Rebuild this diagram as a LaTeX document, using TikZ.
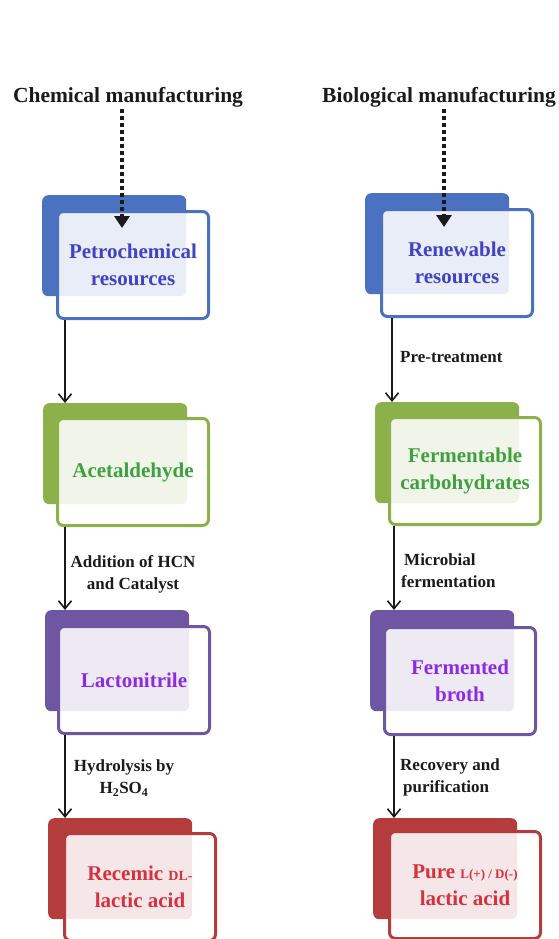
\documentclass[tikz,border=0pt]{standalone}
\usepackage{fontspec}
\setmainfont{Liberation Serif}
\usetikzlibrary{arrows.meta,calc}
\definecolor{cblue}{HTML}{4A72C0}
\definecolor{tblue}{HTML}{4242C2}
\definecolor{cgreen}{HTML}{8CB14B}
\definecolor{tgreen}{HTML}{3FA03F}
\definecolor{cpurple}{HTML}{6E56A2}
\definecolor{tpurple}{HTML}{8E2BE0}
\definecolor{cred}{HTML}{B43C3C}
\definecolor{tred}{HTML}{D8303F}
\definecolor{ink}{HTML}{1A1A1A}
\begin{document}
\begin{tikzpicture}[x=1pt,y=-1pt,
  backbox/.style={fill=#1, rounded corners=6pt, anchor=north west, inner sep=0pt,
    minimum width=144pt, minimum height=101pt},
  frontbox/.style={draw=#1, line width=3pt, fill=white, fill opacity=0.88, text opacity=1,
    rounded corners=6pt, anchor=north west, inner sep=0pt,
    minimum width=151pt, minimum height=107pt, align=center,
    font=\fontsize{21}{27}\selectfont\bfseries},
  titletext/.style={font=\fontsize{21.5}{24}\selectfont\bfseries, text=ink, inner sep=2pt},
  labeltext/.style={font=\fontsize{17}{22}\selectfont\bfseries, text=ink, inner sep=0pt},
  arr/.style={draw=ink, line width=1.6pt, -{Straight Barb[length=8pt,width=13pt,line width=1.6pt]}},
  dots/.style={draw=ink, line width=4pt, dash pattern=on 4pt off 3pt,
    -{Triangle[length=12pt,width=15pt]}}]
\useasboundingbox (0,0) rectangle (558,939);

% titles
\node[titletext] (t1) at (128,97) {Chemical manufacturing};
\node[titletext] (t2) at (439,97) {Biological manufacturing};

% left column
\node[backbox=cblue] (b1) at (42,195) {};
\node[frontbox=cblue, text=tblue] (f1) at (56,210) {Petrochemical\\resources};
\node[backbox=cgreen] (b2) at (43,403) {};
\node[frontbox=cgreen, text=tgreen] (f2) at (56,417) {Acetaldehyde};
\node[backbox=cpurple] (b3) at (45,610) {};
\node[frontbox=cpurple, text=tpurple] (f3) at (57,625) {Lactonitrile};
\node[backbox=cred] (b4) at (48,818) {};
\node[frontbox=cred, text=tred] (f4) at (63,832) {Recemic {\fontsize{14}{14}\selectfont DL-}\\lactic acid};

% right column
\node[backbox=cblue] (B1) at (365,193) {};
\node[frontbox=cblue, text=tblue] (F1) at (380,208) {Renewable\\resources};
\node[backbox=cgreen] (B2) at (375,402) {};
\node[frontbox=cgreen, text=tgreen] (F2) at (388,416) {Fermentable\\carbohydrates};
\node[backbox=cpurple] (B3) at (370,610) {};
\node[frontbox=cpurple, text=tpurple] (F3) at (383,626) {Fermented\\broth};
\node[backbox=cred] (B4) at (373,818) {};
\node[frontbox=cred, text=tred] (F4) at (388,830) {Pure {\fontsize{13}{13}\selectfont L(+) / D(-)}\\lactic acid};

% dotted arrows
\coordinate (d1) at (122,228);
\coordinate (d2) at (444,227);
\draw[dots] (t1.south -| d1) -- (d1);
\draw[dots] (t2.south -| d2) -- (d2);

% solid arrows
\coordinate (a1) at (65,0);
\coordinate (a2) at (392,0);
\coordinate (a3) at (394,0);
\draw[arr] (f1.south -| a1) -- (b2.north -| a1);
\draw[arr] (f2.south -| a1) -- (b3.north -| a1);
\draw[arr] (f3.south -| a1) -- (b4.north -| a1);
\draw[arr] (F1.south -| a2) -- (B2.north -| a2);
\draw[arr] (F2.south -| a3) -- (B3.north -| a3);
\draw[arr] (F3.south -| a3) -- (B4.north -| a3);

% labels
\node[labeltext, anchor=west] (l1) at (400,357) {Pre-treatment};
\node[labeltext, align=center] (l2) at (133,574) {Addition of HCN\\and Catalyst};
\node[labeltext, align=left, anchor=west] (l3) at (401,571) {\hspace{3pt}Microbial\\fermentation};
\node[labeltext, align=center] (l4) at (124,778) {Hydrolysis by\\H\textsubscript{2}SO\textsubscript{4}};
\node[labeltext, align=left, anchor=west] (l5) at (400,777) {Recovery and\\\hspace{3pt}purification};
\end{tikzpicture}
\end{document}
